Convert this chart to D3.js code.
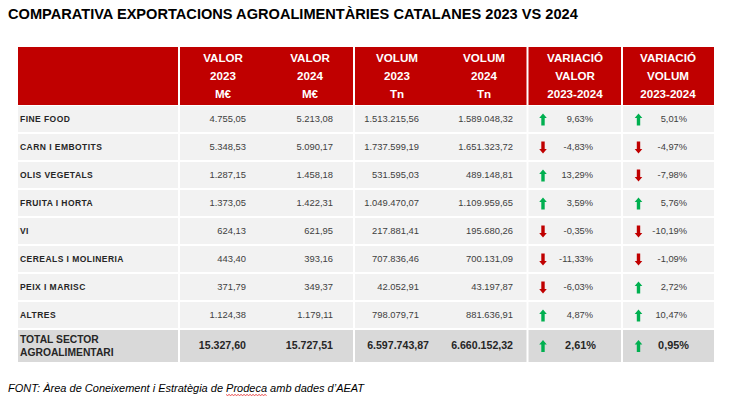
<!DOCTYPE html>
<html>
<head>
<meta charset="utf-8">
<script src="https://cdn.jsdelivr.net/npm/d3@7"></script>
<style>
  body { margin: 0; background: #fff; }
  text { font-family: "Liberation Sans", Arial, sans-serif; }
</style>
</head>
<body>
<div id="chart"></div>
<script>
// chart data
let categories = ["FINE FOOD", "CARN I EMBOTITS", "OLIS VEGETALS", "FRUITA I HORTA",
                  "VI", "CEREALS I MOLINERIA", "PEIX I MARISC", "ALTRES"];
let valor2023 = [4755.05, 5348.53, 1287.15, 1373.05, 624.13, 443.40, 371.79, 1124.38];
let valor2024 = [5213.08, 5090.17, 1458.18, 1422.31, 621.95, 393.16, 349.37, 1179.11];
let volum2023 = [1513215.56, 1737599.19, 531595.03, 1049470.07, 217881.41, 707836.46, 42052.91, 798079.71];
let volum2024 = [1589048.32, 1651323.72, 489148.81, 1109959.65, 195680.26, 700131.09, 43197.87, 881636.91];
let varValor = [9.63, -4.83, 13.29, 3.59, -0.35, -11.33, -6.03, 4.87];
let varVolum = [5.01, -4.97, -7.98, 5.76, -10.19, -1.09, 2.72, 10.47];
let totalLabel = ["TOTAL SECTOR", "AGROALIMENTARI"];
let totalValues = [15327.60, 15727.51, 6597743.87, 6660152.32];
let totalVar = [2.61, 0.95];
let headers = [
  ["VALOR", "2023", "M€"],
  ["VALOR", "2024", "M€"],
  ["VOLUM", "2023", "Tn"],
  ["VOLUM", "2024", "Tn"],
  ["VARIACIÓ", "VALOR", "2023-2024"],
  ["VARIACIÓ", "VOLUM", "2023-2024"]
];
let title = "COMPARATIVA EXPORTACIONS AGROALIMENTÀRIES CATALANES 2023 VS 2024";
let source = ["FONT: Àrea de Coneixement i Estratègia de ", "Prodeca", " amb dades d’AEAT"];

// catalan number format, plain hyphen as minus
let loc = d3.formatLocale({decimal: ",", thousands: ".", grouping: [3], currency: ["", "€"], minus: "-"});
let fmt = loc.format(",.2f");
let pct = v => loc.format(".2f")(v) + "%";

let width = 729, height = 401;
let left = 18, right = 714;
let headTop = 47, headBottom = 105, rowsBottom = 329, totalBottom = 362;
let groupEdges = [left, 179, 354, 527.5, 622, right];

let svg = d3.select("#chart").append("svg")
    .attr("width", width)
    .attr("height", height);

// title
svg.append("text")
    .attr("x", 8).attr("y", 18.5)
    .attr("font-size", 14.6).attr("font-weight", "bold")
    .attr("fill", "#000")
    .text(title);

// row scale
let y = d3.scaleBand().domain(categories).range([headBottom, rowsBottom]);

// column positions (right edges for numbers, centres for arrows)
let headX = d3.scaleOrdinal().domain(d3.range(6)).range([223, 310, 397, 484, 575, 668]);
let numRight = [246, 333, 419, 513];
let totRight = [246, 333, 429, 513];
let pctRight = [593, 687], totPctRight = [596, 689];
let arrowX = [543, 638.5];

// backgrounds per group of columns
function groupRects(y0, y1, color) {
  for (let i = 0; i < groupEdges.length - 1; i++) {
    let x0 = groupEdges[i] + (i > 0 ? 1 : 0);
    let x1 = groupEdges[i + 1] - (i < groupEdges.length - 2 ? 1 : 0);
    svg.append("rect")
        .attr("x", x0).attr("y", y0)
        .attr("width", x1 - x0).attr("height", y1 - y0)
        .attr("fill", color);
  }
}

groupRects(headTop, headBottom, "#c00000");
categories.forEach(c => groupRects(y(c) + 1, y(c) + y.bandwidth() - 1, "#f2f2f2"));
groupRects(rowsBottom + 1, totalBottom, "#d9d9d9");

// header text
let hg = svg.append("g").attr("fill", "#fff").attr("font-weight", "bold")
    .attr("font-size", 11.6).attr("text-anchor", "middle");
headers.forEach((lines, i) => {
  lines.forEach((t, j) => {
    hg.append("text")
        .attr("x", headX(i)).attr("y", 58 + j * 17.8)
        .attr("dy", "0.36em")
        .text(t);
  });
});

// arrows
function arrow(g, cx, cy, v) {
  let up = v >= 0;
  let s = up ? 1 : -1;
  let pts = [[0, -6], [3.8, -1.5], [1.7, -1.5], [1.7, 6], [-1.7, 6], [-1.7, -1.5], [-3.8, -1.5]]
    .map(p => [cx + p[0], cy + p[1] * s]);
  g.append("path")
      .attr("d", d3.line()(pts) + "Z")
      .attr("fill", up ? "#00b050" : "#c00000");
}

// data rows
let rows = svg.append("g").selectAll("g")
    .data(categories)
    .join("g")
    .attr("transform", d => "translate(0," + (y(d) + y.bandwidth() / 2) + ")");

rows.append("text")
    .attr("x", 20).attr("dy", "0.35em")
    .attr("font-size", 8.5).attr("font-weight", "bold")
    .attr("letter-spacing", 0.45)
    .attr("fill", "#262626")
    .text(d => d);

[valor2023, valor2024, volum2023, volum2024].forEach((arr, k) => {
  rows.append("text")
      .attr("x", numRight[k]).attr("dy", "0.35em")
      .attr("text-anchor", "end")
      .attr("font-size", 9.4).attr("fill", "#404040")
      .text((d, i) => fmt(arr[i]));
});

[varValor, varVolum].forEach((arr, k) => {
  rows.append("text")
      .attr("x", pctRight[k]).attr("dy", "0.35em")
      .attr("text-anchor", "end")
      .attr("font-size", 9.3).attr("fill", "#404040")
      .text((d, i) => pct(arr[i]));
  rows.each(function(d, i) { arrow(d3.select(this), arrowX[k], 0.5, arr[i]); });
});

// total row
let tg = svg.append("g")
    .attr("transform", "translate(0," + (rowsBottom + totalBottom) / 2 + ")")
    .attr("font-weight", "bold").attr("fill", "#262626");

totalLabel.forEach((t, j) => {
  tg.append("text")
      .attr("x", 20).attr("y", j === 0 ? -6.5 : 7)
      .attr("dy", "0.35em")
      .attr("font-size", 10.3)
      .text(t);
});
totalValues.forEach((v, k) => {
  tg.append("text")
      .attr("x", totRight[k]).attr("dy", "0.35em")
      .attr("text-anchor", "end").attr("font-size", 10.6)
      .text(fmt(v));
});
totalVar.forEach((v, k) => {
  tg.append("text")
      .attr("x", totPctRight[k]).attr("dy", "0.35em")
      .attr("text-anchor", "end").attr("font-size", 10.9)
      .text(pct(v));
  arrow(tg, arrowX[k], 0.5, v);
});

// source note
let src = svg.append("text")
    .attr("x", 8).attr("y", 392)
    .attr("font-size", 11).attr("font-style", "italic")
    .attr("fill", "#000");
src.selectAll("tspan").data(source).join("tspan").text(d => d);

// red spell-check squiggle under "Prodeca"
let word = src.selectAll("tspan").filter((d, i) => i === 1).node();
let bb = word.getBBox();
let wave = [];
for (let x = bb.x; x <= bb.x + bb.width; x += 1.5) {
  wave.push([x, 394.5 + ((Math.round((x - bb.x) / 1.5) % 2) ? 1 : 0)]);
}
svg.append("path")
    .attr("d", d3.line()(wave))
    .attr("fill", "none").attr("stroke", "#e00000").attr("stroke-width", 0.7);
</script>
</body>
</html>
